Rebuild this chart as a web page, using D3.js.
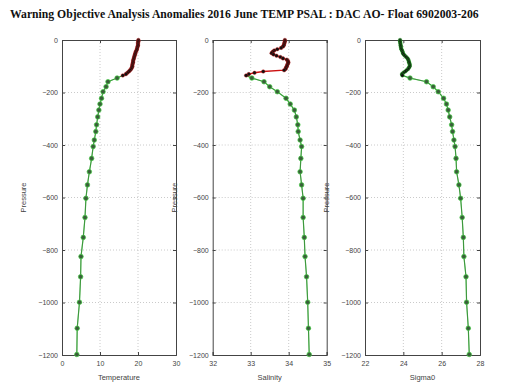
<!DOCTYPE html>
<html><head><meta charset="utf-8">
<script src="https://cdn.jsdelivr.net/npm/d3@7"></script>
<style>body{margin:0;background:#fff}svg{display:block}</style>
</head><body>
<script>
const titleText = "Warning Objective Analysis Anomalies 2016 June TEMP PSAL : DAC AO- Float 6902003-206";
const pressureTicks = [0, -200, -400, -600, -800, -1000, -1200];
const shallowP = [0,5,10,15,20,25,30,35,40,45,50,55,60,65,70,75,80,85,90,95,100,105,110,115,120,125,130,135];
const deepP = [145,159,178,197,222,244,267,293,323,349,381,406,451,502,552,603,676,752,825,902,999,1098,1198];
const tempShallow = [20.1,20.1,20.0,20.0,20.0,19.9,19.8,19.7,19.6,19.4,19.3,19.2,19.1,19.0,18.9,18.8,18.7,18.7,18.6,18.5,18.5,18.4,18.2,17.9,17.6,17.2,16.8,16.0];
const tempDeep = [14.5,12.1,11.6,10.8,10.4,10.0,9.7,9.4,9.1,8.9,8.5,8.2,7.8,7.2,6.7,6.3,6.05,5.6,5.0,4.9,4.6,4.0,3.9];
const salShallow = [33.90,33.90,33.89,33.88,33.87,33.85,33.80,33.70,33.62,33.58,33.55,33.60,33.68,33.78,33.85,33.95,33.98,33.99,33.98,33.96,33.95,33.93,33.92,33.88,33.33,33.10,32.95,32.88];
const salDeep = [33.03,33.35,33.50,33.70,33.93,34.04,34.15,34.20,34.24,34.25,34.30,34.34,34.32,34.30,34.34,34.38,34.38,34.41,34.43,34.47,34.50,34.52,34.54];
const sigShallow = [23.83,23.83,23.84,23.85,23.86,23.87,23.88,23.90,23.93,23.96,23.98,24.02,24.08,24.15,24.22,24.26,24.28,24.30,24.32,24.34,24.33,24.30,24.25,24.17,24.10,24.00,23.93,23.95];
const sigDeep = [24.35,25.21,25.56,25.82,26.10,26.25,26.34,26.42,26.52,26.57,26.64,26.70,26.75,26.78,26.90,26.99,27.07,27.13,27.16,27.27,27.30,27.39,27.44];
const panelLabels = ["Temperature", "Salinity", "Sigma0"];
const xDomains = [[0,30],[32,35],[22,28]];
const xTicks = [[0,10,20,30],[32,33,34,35],[22,24,26,28]];
const shallowSeries = [tempShallow, salShallow, sigShallow];
const deepSeries = [tempDeep, salDeep, sigDeep];
const shallowLineColor = ["#cc1111", "#cc1111", "#22bb22"];
const panelLeft = [62, 212.7, 365];
const panelW = [114, 114, 115];

const W = 512, H = 385, plotTop = 40, plotBottom = 355;
const svg = d3.select("body").append("svg").attr("width", W).attr("height", H);

// title
const title = svg.append("text").attr("x", 10).attr("y", 18)
  .attr("font-family", "Liberation Serif, Times New Roman, serif").attr("font-weight", "bold")
  .attr("font-size", 10).attr("fill", "#111").text("Warning Objective Analysis Anomalies 2016 June TEMP PSAL : ");
const wPrefix = title.node().getComputedTextLength();
const fs = 10 * 323 / wPrefix;
title.attr("font-size", fs).text(titleText);

const y = d3.scaleLinear().domain([0, -1200]).range([plotTop, plotBottom]);

for (let i = 0; i < 3; i++) {
  const x = d3.scaleLinear().domain(xDomains[i]).range([panelLeft[i], panelLeft[i] + panelW[i]]);
  const g = svg.append("g");
  // grid
  g.selectAll(".gx").data(xTicks[i].slice(1, -1)).join("line")
    .attr("x1", d => x(d)).attr("x2", d => x(d)).attr("y1", plotTop).attr("y2", plotBottom)
    .attr("stroke", "#bdbdbd").attr("stroke-width", 0.8).attr("stroke-dasharray", "1,2");
  g.selectAll(".gy").data(pressureTicks.slice(1, -1)).join("line")
    .attr("x1", x.range()[0]).attr("x2", x.range()[1]).attr("y1", d => y(d)).attr("y2", d => y(d))
    .attr("stroke", "#bdbdbd").attr("stroke-width", 0.8).attr("stroke-dasharray", "1,2");

  // axes
  const axL = d3.axisLeft(y).tickValues(pressureTicks).tickSize(-3).tickPadding(4).tickFormat(d3.format("d"));
  const axB = d3.axisBottom(x).tickValues(xTicks[i]).tickSize(-3).tickPadding(6).tickFormat(d3.format("d"));
  const axR = d3.axisRight(y).tickValues(pressureTicks).tickSize(-3).tickFormat("");
  const axT = d3.axisTop(x).tickValues(xTicks[i]).tickSize(-3).tickFormat("");
  const gl = g.append("g").attr("transform", `translate(${x.range()[0]},0)`).call(axL);
  const gb = g.append("g").attr("transform", `translate(0,${plotBottom})`).call(axB);
  const gr = g.append("g").attr("transform", `translate(${x.range()[1]},0)`).call(axR);
  const gt = g.append("g").attr("transform", `translate(0,${plotTop})`).call(axT);
  [gl, gb, gr, gt].forEach(a => {
    a.selectAll("path").attr("stroke", "#444");
    a.selectAll("line").attr("stroke", "#444");
    a.selectAll("text").attr("font-family", "Liberation Sans, Arial, sans-serif").attr("font-size", 7).attr("fill", "#444");
  });

  // labels
  g.append("text").attr("x", (x.range()[0] + x.range()[1]) / 2).attr("y", 380)
    .attr("text-anchor", "middle").attr("font-family", "Liberation Sans, Arial, sans-serif")
    .attr("font-size", 7.5).attr("fill", "#444").text(panelLabels[i]);
  g.append("text").attr("transform", `translate(${x.range()[0] - 36},${(plotTop + plotBottom) / 2}) rotate(-90)`)
    .attr("text-anchor", "middle").attr("font-family", "Liberation Sans, Arial, sans-serif")
    .attr("font-size", 7.5).attr("fill", "#444").text("Pressure");

  const sh = shallowP.map((p, k) => ({ p: -p, v: shallowSeries[i][k] }));
  const dp = deepP.map((p, k) => ({ p: -p, v: deepSeries[i][k] }));
  const line = d3.line().x(d => x(d.v)).y(d => y(d.p));

  // deep profile (green)
  g.append("path").datum([sh[sh.length - 1], ...dp]).attr("d", line)
    .attr("fill", "none").attr("stroke", "#44cc44").attr("stroke-width", 1.2);
  g.append("path").datum([sh[sh.length - 1], ...dp]).attr("d", line)
    .attr("fill", "none").attr("stroke", "#3a5a3a").attr("stroke-width", 0.5);
  g.selectAll(".dm").data(dp).join("circle")
    .attr("cx", d => x(d.v)).attr("cy", d => y(d.p)).attr("r", 2.3)
    .attr("fill", "#3a603a").attr("stroke", "#44cc44").attr("stroke-width", 0.7);

  // shallow profile
  g.append("path").datum(sh).attr("d", line)
    .attr("fill", "none").attr("stroke", shallowLineColor[i]).attr("stroke-width", 1.4);
  g.selectAll(".sm").data(sh).join("circle")
    .attr("cx", d => x(d.v)).attr("cy", d => y(d.p)).attr("r", 1.8)
    .attr("fill", "#111").attr("stroke", shallowLineColor[i]).attr("stroke-width", 0.4);
}
</script>
</body></html>
